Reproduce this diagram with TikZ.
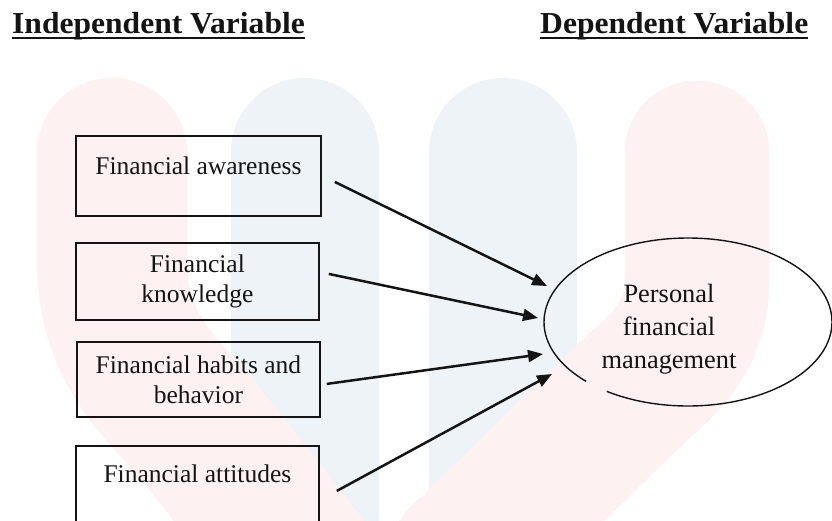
\documentclass[tikz,border=0pt]{standalone}
\usepackage{fontspec}
\setmainfont{Liberation Serif}
\newfontfamily\hdrfont[FakeStretch=1.035]{Liberation Serif}
\usetikzlibrary{arrows.meta,shapes.geometric,calc}

\definecolor{wmpink}{RGB}{253,241,241}
\definecolor{wmblue}{RGB}{238,243,248}
\definecolor{ink}{RGB}{20,20,20}

\tikzset{
  hdr/.style={inner sep=0pt, anchor=base west, text=ink,
    font=\hdrfont\bfseries\fontsize{30.5}{34}\selectfont},
  uline/.style={line width=2.2pt, draw=ink},
  box/.style={draw=ink, line width=1.8pt, rectangle, inner sep=0pt,
    anchor=north west, text=ink, align=center,
    font=\fontsize{25.5}{30}\selectfont},
  oval/.style={ellipse, inner sep=0pt, minimum width=288pt, minimum height=168pt},
  ovaltext/.style={inner sep=0pt, align=center, text=ink,
    font=\fontsize{26.4}{33}\selectfont},
  conn/.style={draw=ink, line width=2.5pt,
    -{Triangle[length=15pt,width=12pt]}},
}

\begin{document}
\begin{tikzpicture}[x=1pt, y=-1pt]
\useasboundingbox (0,0) rectangle (832,520);

% faint background emblem
\begin{scope}
  \clip (0,0) rectangle (832,520);
  \fill[wmblue] (231,560) -- (231,152) arc[start angle=180, end angle=360, radius=74] -- (379,560) -- cycle;
  \fill[wmblue] (429,560) -- (429,152) arc[start angle=180, end angle=360, radius=74] -- (577,560) -- cycle;
  \draw[wmpink, line width=150pt, line cap=round]
    (112,153) -- (112,260) .. controls (112,330) and (140,370) .. (190,420) -- (300,560);
  \draw[wmpink, line width=145pt, line cap=round]
    (697,153) -- (697,280) .. controls (697,330) and (670,360) .. (640,385) -- (460,560);
\end{scope}

% headings
\node[hdr] (hind) at (12,33) {Independent Variable};
\node[hdr] (hdep) at (540,33) {Dependent Variable};
\draw[uline] ([yshift=-4.8pt]hind.base west) -- ([yshift=-4.8pt]hind.base east);
\draw[uline] ([yshift=-4.8pt]hdep.base west) -- ([yshift=-4.8pt]hdep.base east);

% independent variables
\node[box, minimum width=245pt, text height=39pt, text depth=41pt] (b1) at (75,135) {Financial awareness};
\node[box, minimum width=243pt, minimum height=77pt] (b2) at (75,242) {Financial\\knowledge};
\node[box, minimum width=243pt, minimum height=75pt] (b3) at (76,341) {Financial habits and\\behavior};
\node[box, minimum width=243pt, text height=37pt, text depth=38.5pt] (b4) at (75,445) {Financial attitudes};

% dependent variable
\node[oval] (pfm) at (688,322) {};
\draw[ink, line width=1.4pt] ($(pfm.center)+(135:144 and 84)$)
  arc[start angle=135, end angle=484.3, x radius=144, y radius=84];
\node[ovaltext] (pfmtext) at (669,329) {Personal\\financial\\management};

% relationships
\draw[conn] ($(b1.east)+(13,6)$) -- ($(pfm.center)+(-141,-36)$);
\draw[conn] ($(b2.east)+(9,-7.5)$) -- ($(pfm.center)+(-150,-4)$);
\draw[conn] ($(b3.east)+(6,4.5)$) -- ($(pfm.center)+(-145,32)$);
\draw[conn] ($(b4.east)+(17,7.25)$) -- ($(pfm.center)+(-136,52)$);
\end{tikzpicture}
\end{document}
